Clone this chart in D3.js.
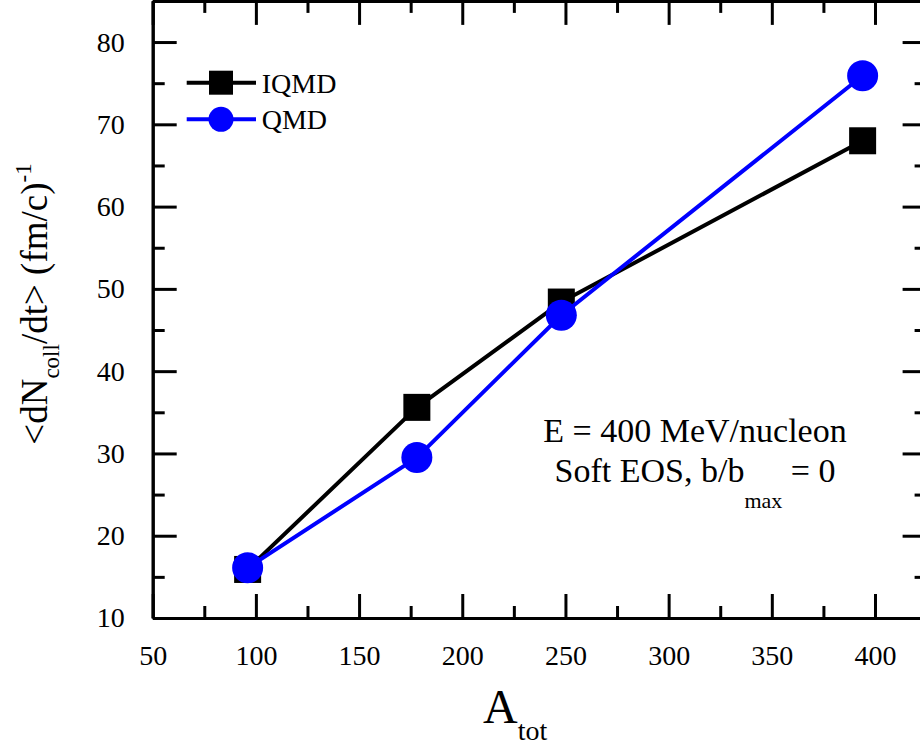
<!DOCTYPE html>
<html>
<head>
<meta charset="utf-8">
<script src="https://cdn.jsdelivr.net/npm/d3@7"></script>
<style>
  html, body { margin: 0; padding: 0; background: #fff; }
  svg { display: block; }
  svg text { font-family: "Liberation Serif", "Times New Roman", "DejaVu Serif", serif !important; fill: #000; }
</style>
</head>
<body>
<svg id="chart" width="920" height="749" font-family="Liberation Serif, serif"></svg>
<script>
// Total mass number of the colliding system
const aTot = [96, 178, 248, 394];
// Mean collision rate <dN_coll/dt> in (fm/c)^-1
const iqmd = [15.9, 35.6, 48.4, 68.0];
const qmd  = [16.1, 29.5, 46.8, 75.9];

const xMajor = [50, 100, 150, 200, 250, 300, 350, 400];
const xMinor = [75, 125, 175, 225, 275, 325, 375, 425];
const yMajor = [10, 20, 30, 40, 50, 60, 70, 80];
const yMinor = [15, 25, 35, 45, 55, 65, 75, 85];

const serif = "Liberation Serif, Times New Roman, serif";
const svg = d3.select("#chart");

const x = d3.scaleLinear().domain([50, 425]).range([152.7, 926.6]);
const y = d3.scaleLinear().domain([10, 85]).range([618, 0.9]);

const axisW = 3;

// Frame axes: ticks point inward on all four sides
function styleAxis(g) {
  g.attr("font-family", serif).attr("font-size", 28);
  g.selectAll("path.domain").attr("stroke", "#000").attr("stroke-width", axisW);
  g.selectAll(".tick line").attr("stroke", "#000").attr("stroke-width", axisW);
  g.selectAll(".tick text").attr("font-family", serif).attr("font-size", 28).attr("fill", "#000");
}

// bottom
svg.append("g").attr("transform", `translate(0,${y(10)})`)
  .call(d3.axisBottom(x).tickValues(xMinor).tickSize(-12).tickSizeOuter(0).tickFormat(""))
  .call(styleAxis);
svg.append("g").attr("transform", `translate(0,${y(10)})`)
  .call(d3.axisBottom(x).tickValues(xMajor).tickSize(-24).tickSizeOuter(0).tickPadding(27).tickFormat(d3.format("d")))
  .call(styleAxis);
// top
svg.append("g").attr("transform", `translate(0,${y(85)})`)
  .call(d3.axisTop(x).tickValues(xMinor).tickSize(-12).tickSizeOuter(0).tickFormat(""))
  .call(styleAxis);
svg.append("g").attr("transform", `translate(0,${y(85)})`)
  .call(d3.axisTop(x).tickValues(xMajor).tickSize(-24).tickSizeOuter(0).tickFormat(""))
  .call(styleAxis);
// left
svg.append("g").attr("transform", `translate(${x(50)},0)`)
  .call(d3.axisLeft(y).tickValues(yMinor).tickSize(-12).tickSizeOuter(0).tickFormat(""))
  .call(styleAxis);
svg.append("g").attr("transform", `translate(${x(50)},0)`)
  .call(d3.axisLeft(y).tickValues(yMajor).tickSize(-24).tickSizeOuter(0).tickPadding(28).tickFormat(d3.format("d")))
  .call(styleAxis);
// right
svg.append("g").attr("transform", `translate(${x(425)},0)`)
  .call(d3.axisRight(y).tickValues(yMinor).tickSize(-12).tickSizeOuter(0).tickFormat(""))
  .call(styleAxis);
svg.append("g").attr("transform", `translate(${x(425)},0)`)
  .call(d3.axisRight(y).tickValues(yMajor).tickSize(-24).tickSizeOuter(0).tickFormat(""))
  .call(styleAxis);

// Series
const series = [
  { name: "IQMD", values: iqmd, color: "#000000", width: 4, shape: "square" },
  { name: "QMD",  values: qmd,  color: "#0000ff", width: 4, shape: "circle" }
];

const line = d3.line().x(d => x(d[0])).y(d => y(d[1]));

series.forEach(s => {
  const pts = aTot.map((a, i) => [a, s.values[i]]);
  svg.append("path").datum(pts)
    .attr("d", line).attr("fill", "none")
    .attr("stroke", s.color).attr("stroke-width", s.width).attr("stroke-linejoin", "round");
  if (s.shape === "square") {
    const sz = 27;
    svg.append("g").selectAll("rect").data(pts).join("rect")
      .attr("x", d => x(d[0]) - sz / 2).attr("y", d => y(d[1]) - sz / 2)
      .attr("width", sz).attr("height", sz).attr("fill", s.color);
  } else {
    svg.append("g").selectAll("circle").data(pts).join("circle")
      .attr("cx", d => x(d[0])).attr("cy", d => y(d[1]))
      .attr("r", 15.5).attr("fill", s.color);
  }
});

// Legend
const legend = svg.append("g").attr("font-family", serif);
const legendRows = [
  { s: series[0], cy: 82.7 },
  { s: series[1], cy: 119.3 }
];
legendRows.forEach(r => {
  legend.append("line").attr("x1", 186.7).attr("x2", 256).attr("y1", r.cy).attr("y2", r.cy)
    .attr("stroke", r.s.color).attr("stroke-width", r.s.width);
  if (r.s.shape === "square") {
    legend.append("rect").attr("x", 221 - 12).attr("y", r.cy - 12).attr("width", 24).attr("height", 24)
      .attr("fill", r.s.color);
  } else {
    legend.append("circle").attr("cx", 221).attr("cy", r.cy).attr("r", 12.5).attr("fill", r.s.color);
  }
  legend.append("text").attr("x", 261.7).attr("y", r.cy).attr("dy", "0.35em")
    .attr("font-size", 28).text(r.s.name);
});

// Annotation
const note = svg.append("g").attr("text-anchor", "middle").attr("font-family", serif);
note.append("text").attr("x", 695).attr("y", 441.7).attr("font-size", 34)
  .text("E = 400 MeV/nucleon");
const t2 = note.append("text").attr("x", 695).attr("y", 481.7).attr("font-size", 34);
t2.append("tspan").text("Soft EOS, b/b");
t2.append("tspan").attr("dy", 26).attr("font-size", 22).text("max");
t2.append("tspan").attr("dy", -26).text(" = 0");

// Axis titles
const xt = svg.append("text").attr("x", 483).attr("y", 723).attr("font-family", serif).attr("font-size", 48);
xt.append("tspan").text("A");
xt.append("tspan").attr("dy", 17).attr("font-size", 28).text("tot");

const yt = svg.append("text").attr("transform", "translate(47,304) rotate(-90)")
  .attr("text-anchor", "middle").attr("font-family", serif).attr("font-size", 37);
yt.append("tspan").text("<dN");
yt.append("tspan").attr("dy", 12).attr("font-size", 23).text("coll");
yt.append("tspan").attr("dy", -12).text("/dt> (fm/c)");
yt.append("tspan").attr("dy", -16).attr("font-size", 23).text("-1");
</script>
</body>
</html>
